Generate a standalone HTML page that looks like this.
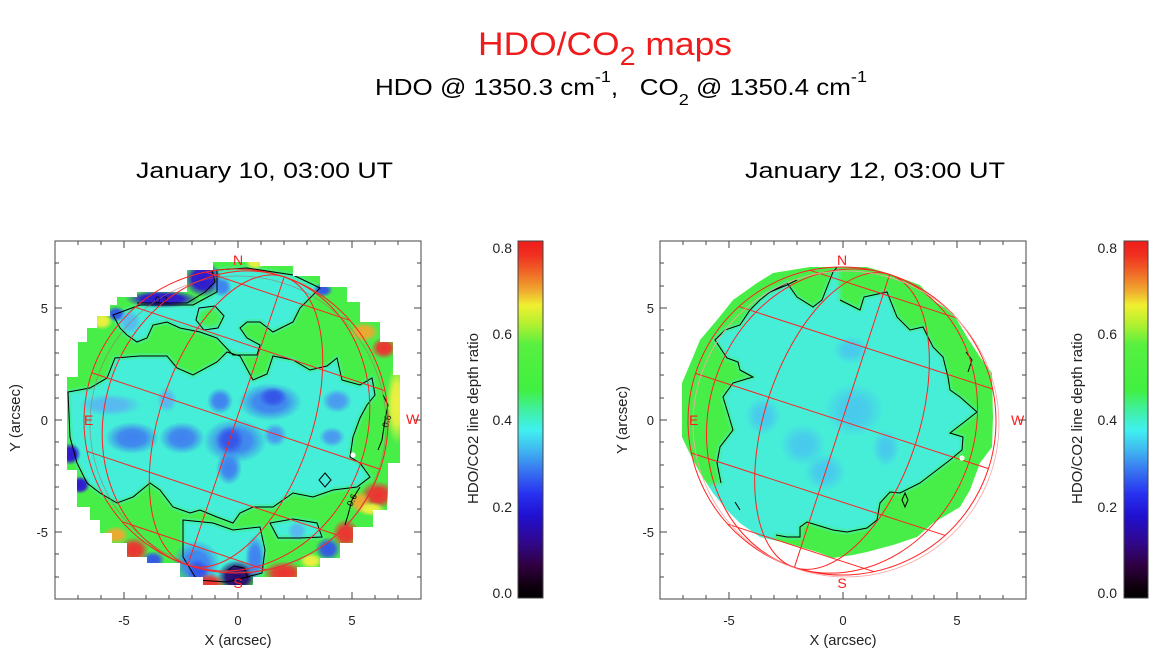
<!DOCTYPE html>
<html><head><meta charset="utf-8">
<style>
html,body{margin:0;padding:0;background:#fff;width:1167px;height:654px;overflow:hidden}
svg{display:block}
</style></head>
<body>
<svg width="1167" height="654" viewBox="0 0 1167 654" xmlns="http://www.w3.org/2000/svg" font-family="'Liberation Sans', Arial, sans-serif">
<defs>
 <clipPath id="clipL"><polygon points="213,262 260,262 260,266 293,266 293,276 320,276 320,287 347,287 347,302 360,302 360,322 380,322 380,342 393,342 393,375 400,375 400,463 388,463 388,487 387,510 373,510 373,527 353,527 353,543 340,543 340,558 320,558 320,567 297,567 297,577 253,577 253,585 203,585 203,577 180,577 180,563 147,563 147,557 127,557 127,543 112,543 112,533 100,533 100,520 90,520 90,507 77,507 77,470 67,470 67,377 78,377 78,342 87,342 87,328 97,328 97,316 110,316 110,305 117,305 117,297 137,297 137,292 187,292 187,270 213,270"/></clipPath>
 <clipPath id="clipR"><polygon points="810,267 867,267 887,273 920,285 933,300 953,313 967,337 980,357 992,373 993,417 992,447 980,463 970,490 960,507 933,523 917,537 893,545 867,552 853,555 833,558 817,552 787,543 760,537 740,523 727,510 713,493 700,473 688,450 682,437 682,383 693,357 700,340 717,320 733,300 757,283 773,273"/></clipPath>
 <linearGradient id="cb" x1="0" y1="0" x2="0" y2="1">
  <stop offset="0" stop-color="#f01c1c"/>
  <stop offset="0.04" stop-color="#f03020"/>
  <stop offset="0.095" stop-color="#f07028"/>
  <stop offset="0.143" stop-color="#f0b030"/>
  <stop offset="0.18" stop-color="#f0f030"/>
  <stop offset="0.235" stop-color="#b0f030"/>
  <stop offset="0.29" stop-color="#58f040"/>
  <stop offset="0.417" stop-color="#40f040"/>
  <stop offset="0.473" stop-color="#40f0a0"/>
  <stop offset="0.53" stop-color="#40f0f0"/>
  <stop offset="0.585" stop-color="#40b8f0"/>
  <stop offset="0.64" stop-color="#3878f0"/>
  <stop offset="0.71" stop-color="#2830f0"/>
  <stop offset="0.77" stop-color="#2010d0"/>
  <stop offset="0.84" stop-color="#300890"/>
  <stop offset="0.91" stop-color="#300040"/>
  <stop offset="0.965" stop-color="#100010"/>
  <stop offset="1" stop-color="#000000"/>
 </linearGradient>
 <radialGradient id="gLB"><stop offset="0" stop-color="#58b8f0"/><stop offset="0.5" stop-color="#58b8f0" stop-opacity="0.9"/><stop offset="1" stop-color="#58b8f0" stop-opacity="0"/></radialGradient>
 <radialGradient id="gB"><stop offset="0" stop-color="#4080f0"/><stop offset="0.5" stop-color="#4080f0" stop-opacity="0.9"/><stop offset="1" stop-color="#4080f0" stop-opacity="0"/></radialGradient>
 <radialGradient id="gBL"><stop offset="0" stop-color="#4a98f0"/><stop offset="0.5" stop-color="#4a98f0" stop-opacity="0.9"/><stop offset="1" stop-color="#4a98f0" stop-opacity="0"/></radialGradient>
 <radialGradient id="gDB"><stop offset="0" stop-color="#3454e8"/><stop offset="0.5" stop-color="#3454e8" stop-opacity="0.9"/><stop offset="1" stop-color="#3454e8" stop-opacity="0"/></radialGradient>
 <radialGradient id="gDD"><stop offset="0" stop-color="#3018d0"/><stop offset="0.55" stop-color="#3018d0" stop-opacity="0.95"/><stop offset="1" stop-color="#3018d0" stop-opacity="0"/></radialGradient>
 <radialGradient id="gP"><stop offset="0" stop-color="#2a0a70"/><stop offset="0.55" stop-color="#2a0a70" stop-opacity="0.95"/><stop offset="1" stop-color="#2a0a70" stop-opacity="0"/></radialGradient>
 <radialGradient id="gY"><stop offset="0" stop-color="#f0f040"/><stop offset="0.5" stop-color="#f0f040" stop-opacity="0.9"/><stop offset="1" stop-color="#f0f040" stop-opacity="0"/></radialGradient>
 <radialGradient id="gO"><stop offset="0" stop-color="#f0a830"/><stop offset="0.5" stop-color="#f0a830" stop-opacity="0.9"/><stop offset="1" stop-color="#f0a830" stop-opacity="0"/></radialGradient>
 <radialGradient id="gR"><stop offset="0" stop-color="#f03030"/><stop offset="0.5" stop-color="#f03030" stop-opacity="0.9"/><stop offset="1" stop-color="#f03030" stop-opacity="0"/></radialGradient>
 <radialGradient id="gG"><stop offset="0" stop-color="#48ee48"/><stop offset="0.5" stop-color="#48ee48" stop-opacity="0.9"/><stop offset="1" stop-color="#48ee48" stop-opacity="0"/></radialGradient>
 <radialGradient id="gC"><stop offset="0" stop-color="#48c8ee"/><stop offset="0.45" stop-color="#48c8ee" stop-opacity="0.85"/><stop offset="1" stop-color="#48c8ee" stop-opacity="0"/></radialGradient>
</defs>

<rect x="0" y="0" width="1167" height="654" fill="#fff"/>

<!-- Titles -->
<text x="478" y="55" font-size="32" fill="#ee1c1c" textLength="254" lengthAdjust="spacingAndGlyphs">HDO/CO<tspan dy="10" font-size="26">2</tspan><tspan dy="-10">&#160;maps</tspan></text>
<text x="375" y="95" font-size="23" fill="#000" textLength="492" lengthAdjust="spacingAndGlyphs">HDO @ 1350.3 cm<tspan dy="-13" font-size="16">-1</tspan><tspan dy="13">,&#160;&#160;&#160;CO</tspan><tspan dy="10" font-size="16">2</tspan><tspan dy="-10">&#160;@ 1350.4 cm</tspan><tspan dy="-13" font-size="16">-1</tspan></text>

<text x="136" y="178" font-size="22" fill="#000" textLength="257" lengthAdjust="spacingAndGlyphs">January 10, 03:00 UT</text>
<text x="745" y="178" font-size="22" fill="#000" textLength="260" lengthAdjust="spacingAndGlyphs">January 12, 03:00 UT</text>

<!-- LEFT MAP -->
<g clip-path="url(#clipL)">
 <rect x="45" y="250" width="370" height="350" fill="#48ee48"/>
 <g fill="#44eed8" stroke="#46ee96" stroke-width="6" stroke-opacity="0.55" stroke-linejoin="round">
 <polygon points="113,315 140,305 193,305 217,292 217,270 247,268 293,275 320,288 300,308 293,322 273,332 260,322 247,322 240,328 247,338 260,345 257,355 233,355 217,338 200,332 180,328 167,322 153,325 147,338 137,342 127,335 120,328"/>
 <polygon points="68,392 90,388 107,378 115,358 140,356 167,356 177,368 193,375 217,362 227,352 240,356 253,380 267,374 273,356 293,360 310,370 327,366 337,358 342,380 360,385 372,378 375,395 367,405 360,418 353,437 350,457 360,463 370,477 357,487 333,490 313,497 293,493 273,507 253,507 240,513 233,523 217,517 200,510 190,513 173,507 160,490 150,483 133,497 117,503 100,493 87,483 77,463 70,437"/>
 <polygon points="183,520 213,523 233,530 260,527 265,550 262,573 227,582 197,580 183,557"/>
 <polygon points="270,523 293,519 317,523 322,537 300,538 278,538"/>
 </g>
 <ellipse cx="210" cy="318" rx="16" ry="13" fill="url(#gG)"/>
 <!-- blues -->
 <ellipse cx="110" cy="405" rx="32" ry="11" fill="url(#gLB)"/>
 <ellipse cx="167" cy="400" rx="10" ry="13" fill="url(#gLB)"/>
 <ellipse cx="220" cy="401" rx="13" ry="13" fill="url(#gB)"/>
 <ellipse cx="270" cy="402" rx="32" ry="19" fill="url(#gB)"/>
 <ellipse cx="273" cy="397" rx="14" ry="10" fill="url(#gDB)"/>
 <ellipse cx="337" cy="401" rx="15" ry="12" fill="url(#gBL)"/>
 <ellipse cx="132" cy="438" rx="27" ry="16" fill="url(#gB)"/>
 <ellipse cx="182" cy="438" rx="23" ry="16" fill="url(#gB)"/>
 <ellipse cx="235" cy="441" rx="32" ry="22" fill="url(#gB)"/>
 <ellipse cx="229" cy="468" rx="13" ry="17" fill="url(#gB)"/>
 <ellipse cx="230" cy="440" rx="14" ry="14" fill="url(#gDB)"/>
 <ellipse cx="275" cy="435" rx="12" ry="12" fill="url(#gBL)"/>
 <ellipse cx="332" cy="437" rx="13" ry="10" fill="url(#gBL)"/>
 <ellipse cx="203" cy="279" rx="19" ry="18" fill="url(#gDD)"/>
 <ellipse cx="162" cy="299" rx="37" ry="9" fill="url(#gDD)"/>
 <ellipse cx="222" cy="287" rx="10" ry="10" fill="url(#gB)"/>
 <ellipse cx="116" cy="314" rx="10" ry="8" fill="url(#gDB)"/>
 <ellipse cx="130" cy="322" rx="11" ry="12" fill="url(#gLB)"/>
 <ellipse cx="323" cy="290" rx="10" ry="7" fill="url(#gDB)"/>
 <ellipse cx="70" cy="454" rx="11" ry="11" fill="url(#gDD)"/>
 <ellipse cx="80" cy="485" rx="10" ry="9" fill="url(#gDD)"/>
 <ellipse cx="153" cy="560" rx="12" ry="9" fill="url(#gDB)"/>
 <ellipse cx="196" cy="564" rx="24" ry="24" fill="url(#gB)"/>
 <ellipse cx="198" cy="571" rx="11" ry="12" fill="url(#gDB)"/>
 <ellipse cx="237" cy="577" rx="20" ry="17" fill="url(#gP)"/>
 <ellipse cx="255" cy="558" rx="10" ry="23" fill="url(#gB)"/>
 <ellipse cx="328" cy="549" rx="13" ry="12" fill="url(#gDB)"/>
 <ellipse cx="297" cy="531" rx="10" ry="10" fill="url(#gLB)"/>
 <!-- reds / yellows -->
 <ellipse cx="102" cy="321" rx="11" ry="9" fill="url(#gY)"/>
 <ellipse cx="255" cy="262" rx="10" ry="8" fill="url(#gY)"/>
 <ellipse cx="364" cy="332" rx="15" ry="10" fill="url(#gO)"/>
 <ellipse cx="384" cy="348" rx="13" ry="11" fill="url(#gR)"/>
 <ellipse cx="397" cy="404" rx="11" ry="40" fill="url(#gY)"/>
 <ellipse cx="378" cy="495" rx="18" ry="14" fill="url(#gR)"/>
 <ellipse cx="360" cy="502" rx="11" ry="11" fill="url(#gO)"/>
 <ellipse cx="371" cy="509" rx="14" ry="7" fill="url(#gY)"/>
 <ellipse cx="346" cy="534" rx="14" ry="15" fill="url(#gR)"/>
 <ellipse cx="284" cy="573" rx="21" ry="12" fill="url(#gR)"/>
 <ellipse cx="210" cy="583" rx="15" ry="10" fill="url(#gR)"/>
 <ellipse cx="134" cy="550" rx="15" ry="13" fill="url(#gR)"/>
 <ellipse cx="116" cy="535" rx="13" ry="9" fill="url(#gO)"/>
 <ellipse cx="311" cy="561" rx="12" ry="8" fill="url(#gY)"/>
</g>
<!-- left contours -->
<g clip-path="url(#clipL)" fill="none" stroke="#000" stroke-width="1">
 <polygon points="113,315 140,305 193,305 217,292 217,270 247,268 293,275 320,288 300,308 293,322 273,332 260,322 247,322 240,328 247,338 260,345 257,355 233,355 217,338 200,332 180,328 167,322 153,325 147,338 137,342 127,335 120,328"/>
 <polygon points="199,308 215,306 224,316 218,328 204,330 196,320"/>
 <polygon points="68,392 90,388 107,378 115,358 140,356 167,356 177,368 193,375 217,362 227,352 240,356 253,380 267,374 273,356 293,360 310,370 327,366 337,358 342,380 360,385 372,378 375,395 367,405 360,418 353,437 350,457 360,463 370,477 357,487 333,490 313,497 293,493 273,507 253,507 240,513 233,523 217,517 200,510 190,513 173,507 160,490 150,483 133,497 117,503 100,493 87,483 77,463 70,437"/>
 <polygon points="183,520 213,523 233,530 260,527 265,550 262,573 227,582 197,580 183,557"/>
 <polygon points="270,523 293,519 317,523 322,537 300,538 278,538"/>
 <polygon points="325,473 331,480 325,487 319,480"/>
 <polyline points="137,303 187,303 205,292 215,282 212,270"/>
 <polyline points="383,395 388,405 385,420 382,440 378,450"/>
 <polyline points="360,487 352,500 348,515 345,525"/>
 <polyline points="228,570 234,566 244,568 248,578"/>
</g>
<text x="155" y="303" font-size="9" fill="#000">0.2</text>
<text transform="translate(388,428) rotate(-75)" font-size="9" fill="#000">0.6</text>
<text transform="translate(352,507) rotate(-65)" font-size="9" fill="#000">0.6</text>

<!-- left grid -->
<g transform="rotate(18.5 236 421)" fill="none" stroke="#f22" stroke-width="1">
 <circle cx="236" cy="421" r="152"/>
 <ellipse cx="236" cy="421" rx="76" ry="152"/>
 <ellipse cx="236" cy="421" rx="131.6" ry="152"/>
 <line x1="236" y1="269" x2="236" y2="573"/>
 <line x1="104.4" y1="345" x2="367.6" y2="345"/>
 <line x1="160" y1="289.4" x2="312" y2="289.4"/>
 <line x1="84" y1="421" x2="388" y2="421"/>
 <line x1="104.4" y1="497" x2="367.6" y2="497"/>
 <line x1="160" y1="552.6" x2="312" y2="552.6"/>
</g>
<circle cx="238" cy="424" r="148" fill="none" stroke="#b06060" stroke-width="0.8" opacity="0.6"/>
<circle cx="353" cy="455" r="2.6" fill="#fff"/>
<g fill="#ff1a1a" font-size="14">
 <text x="238" y="265" text-anchor="middle">N</text>
 <text x="238" y="588" text-anchor="middle">S</text>
 <text x="84" y="425">E</text>
 <text x="406" y="424">W</text>
</g>

<!-- RIGHT MAP -->
<g clip-path="url(#clipR)">
 <rect x="670" y="255" width="340" height="320" fill="#48ee48"/>
 <polygon fill="#46eed8" stroke="#46ee96" stroke-width="6" stroke-opacity="0.55" stroke-linejoin="round" points="760,300 770,292 787,283 797,297 813,307 822,300 833,272 838,268 840,300 860,310 864,297 887,292 897,317 910,330 923,327 933,347 943,357 948,377 950,390 960,397 977,412 963,423 950,433 963,437 962,450 950,460 933,473 920,483 900,493 890,492 880,503 877,520 867,528 847,532 833,530 807,522 800,527 800,537 787,537 776,535 770,565 690,520 690,487 721,483 717,463 720,447 733,430 727,410 723,397 733,383 753,377 740,370 738,362 727,358 715,340 725,330 740,325 750,310"/>
 <ellipse cx="763" cy="416" rx="18" ry="19" fill="url(#gC)"/>
 <ellipse cx="851" cy="350" rx="18" ry="14" fill="url(#gC)"/>
 <ellipse cx="854" cy="410" rx="30" ry="27" fill="url(#gC)"/>
 <ellipse cx="803" cy="445" rx="23" ry="21" fill="url(#gC)"/>
 <ellipse cx="886" cy="448" rx="14" ry="19" fill="url(#gC)"/>
 <ellipse cx="825" cy="472" rx="21" ry="19" fill="url(#gC)"/>
</g>
<g clip-path="url(#clipR)" fill="none" stroke="#000" stroke-width="1">
 <polyline points="721,483 717,463 720,447 733,430 727,410 723,397 733,383 753,377 740,370 738,362 727,358 715,340 725,330 740,325 750,310 760,300 770,292 787,283 797,297 813,307 822,300 833,272 838,266"/>
 <polyline points="840,300 860,310 864,297 887,292 897,317 910,330 923,327 933,347 943,357 948,377 950,390 960,397 977,412 963,423 950,433 963,437 962,450 950,460 933,473 920,483 900,493 890,492 880,503 877,520 867,528 847,532 833,530 807,522 800,527 800,537 787,537 776,535"/>
 <polygon points="905,493 908,500 905,507 902,500"/>
 <polyline points="735,502 740,510"/>
 <polyline points="770,292 787,285 797,280"/>
 <polyline points="966,352 972,360 968,372"/>
</g>
<g transform="rotate(18 842 421)" fill="none" stroke="#f22" stroke-width="1">
 <circle cx="842" cy="421" r="154"/>
 <ellipse cx="842" cy="421" rx="77" ry="154"/>
 <ellipse cx="842" cy="421" rx="133.4" ry="154"/>
 <line x1="842" y1="267" x2="842" y2="575"/>
 <line x1="708.6" y1="344" x2="975.4" y2="344"/>
 <line x1="765" y1="287.6" x2="919" y2="287.6"/>
 <line x1="688" y1="421" x2="996" y2="421"/>
 <line x1="708.6" y1="498" x2="975.4" y2="498"/>
 <line x1="765" y1="554.4" x2="919" y2="554.4"/>
</g>
<circle cx="846" cy="424" r="153" fill="none" stroke="#f8a8a8" stroke-width="0.8"/>
<circle cx="962" cy="458" r="2.6" fill="#fff"/>
<g fill="#ff1a1a" font-size="14">
 <text x="842" y="265" text-anchor="middle">N</text>
 <text x="842" y="588" text-anchor="middle">S</text>
 <text x="689" y="425">E</text>
 <text x="1011" y="425">W</text>
</g>

<!-- Frames & ticks -->
<g fill="none" stroke="#444" stroke-width="1" shape-rendering="crispEdges">
 <rect x="55" y="241" width="366" height="358"/>
 <path d="M78,599v-4M101,599v-4M124,599v-7M146,599v-4M169,599v-4M192,599v-4M215,599v-4M238,599v-7M261,599v-4M284,599v-4M307,599v-4M329,599v-4M352,599v-7M375,599v-4M398,599v-4
 M78,241v4M101,241v4M124,241v7M146,241v4M169,241v4M192,241v4M215,241v4M238,241v7M261,241v4M284,241v4M307,241v4M329,241v4M352,241v7M375,241v4M398,241v4
 M55,263h4M55,286h4M55,308h7M55,330h4M55,353h4M55,375h4M55,398h4M55,420h7M55,442h4M55,465h4M55,487h4M55,509h4M55,532h7M55,554h4M55,577h4
 M421,263h-4M421,286h-4M421,308h-7M421,330h-4M421,353h-4M421,375h-4M421,398h-4M421,420h-7M421,442h-4M421,465h-4M421,487h-4M421,509h-4M421,532h-7M421,554h-4M421,577h-4"/>
 <rect x="660" y="241" width="366" height="358"/>
 <path d="M683,599v-4M706,599v-4M729,599v-7M751,599v-4M774,599v-4M797,599v-4M820,599v-4M843,599v-7M866,599v-4M889,599v-4M912,599v-4M934,599v-4M957,599v-7M980,599v-4M1003,599v-4
 M683,241v4M706,241v4M729,241v7M751,241v4M774,241v4M797,241v4M820,241v4M843,241v7M866,241v4M889,241v4M912,241v4M934,241v4M957,241v7M980,241v4M1003,241v4
 M660,263h4M660,286h4M660,308h7M660,330h4M660,353h4M660,375h4M660,398h4M660,420h7M660,442h4M660,465h4M660,487h4M660,509h4M660,532h7M660,554h4M660,577h4
 M1026,263h-4M1026,286h-4M1026,308h-7M1026,330h-4M1026,353h-4M1026,375h-4M1026,398h-4M1026,420h-7M1026,442h-4M1026,465h-4M1026,487h-4M1026,509h-4M1026,532h-7M1026,554h-4M1026,577h-4"/>
</g>

<!-- tick labels -->
<g font-size="13" fill="#222">
 <text x="124" y="625" text-anchor="middle">-5</text>
 <text x="238" y="625" text-anchor="middle">0</text>
 <text x="352" y="625" text-anchor="middle">5</text>
 <text x="48" y="313" text-anchor="end">5</text>
 <text x="48" y="425" text-anchor="end">0</text>
 <text x="48" y="537" text-anchor="end">-5</text>
 <text x="729" y="625" text-anchor="middle">-5</text>
 <text x="843" y="625" text-anchor="middle">0</text>
 <text x="957" y="625" text-anchor="middle">5</text>
 <text x="654" y="313" text-anchor="end">5</text>
 <text x="654" y="425" text-anchor="end">0</text>
 <text x="654" y="537" text-anchor="end">-5</text>
</g>
<g font-size="15" fill="#222">
 <text x="238" y="645" text-anchor="middle" textLength="67" lengthAdjust="spacingAndGlyphs">X (arcsec)</text>
 <text x="843" y="645" text-anchor="middle" textLength="67" lengthAdjust="spacingAndGlyphs">X (arcsec)</text>
 <text transform="translate(20,418) rotate(-90)" text-anchor="middle" textLength="68" lengthAdjust="spacingAndGlyphs">Y (arcsec)</text>
 <text transform="translate(627,420) rotate(-90)" text-anchor="middle" textLength="68" lengthAdjust="spacingAndGlyphs">Y (arcsec)</text>
</g>

<!-- Colorbars -->
<rect x="518" y="241" width="25" height="357" fill="url(#cb)" stroke="#444" stroke-width="1"/>
<rect x="1124" y="241" width="24" height="357" fill="url(#cb)" stroke="#444" stroke-width="1"/>
<g font-size="14" fill="#222" text-anchor="end">
 <text x="512" y="253">0.8</text>
 <text x="512" y="339">0.6</text>
 <text x="512" y="425">0.4</text>
 <text x="512" y="512">0.2</text>
 <text x="512" y="598">0.0</text>
 <text x="1117" y="253">0.8</text>
 <text x="1117" y="339">0.6</text>
 <text x="1117" y="425">0.4</text>
 <text x="1117" y="512">0.2</text>
 <text x="1117" y="598">0.0</text>
</g>
<g font-size="15" fill="#222">
 <text transform="translate(478,418.5) rotate(-90)" text-anchor="middle" textLength="171" lengthAdjust="spacingAndGlyphs">HDO/CO2 line depth ratio</text>
 <text transform="translate(1082,418.5) rotate(-90)" text-anchor="middle" textLength="171" lengthAdjust="spacingAndGlyphs">HDO/CO2 line depth ratio</text>
</g>
</svg>
</body></html>
